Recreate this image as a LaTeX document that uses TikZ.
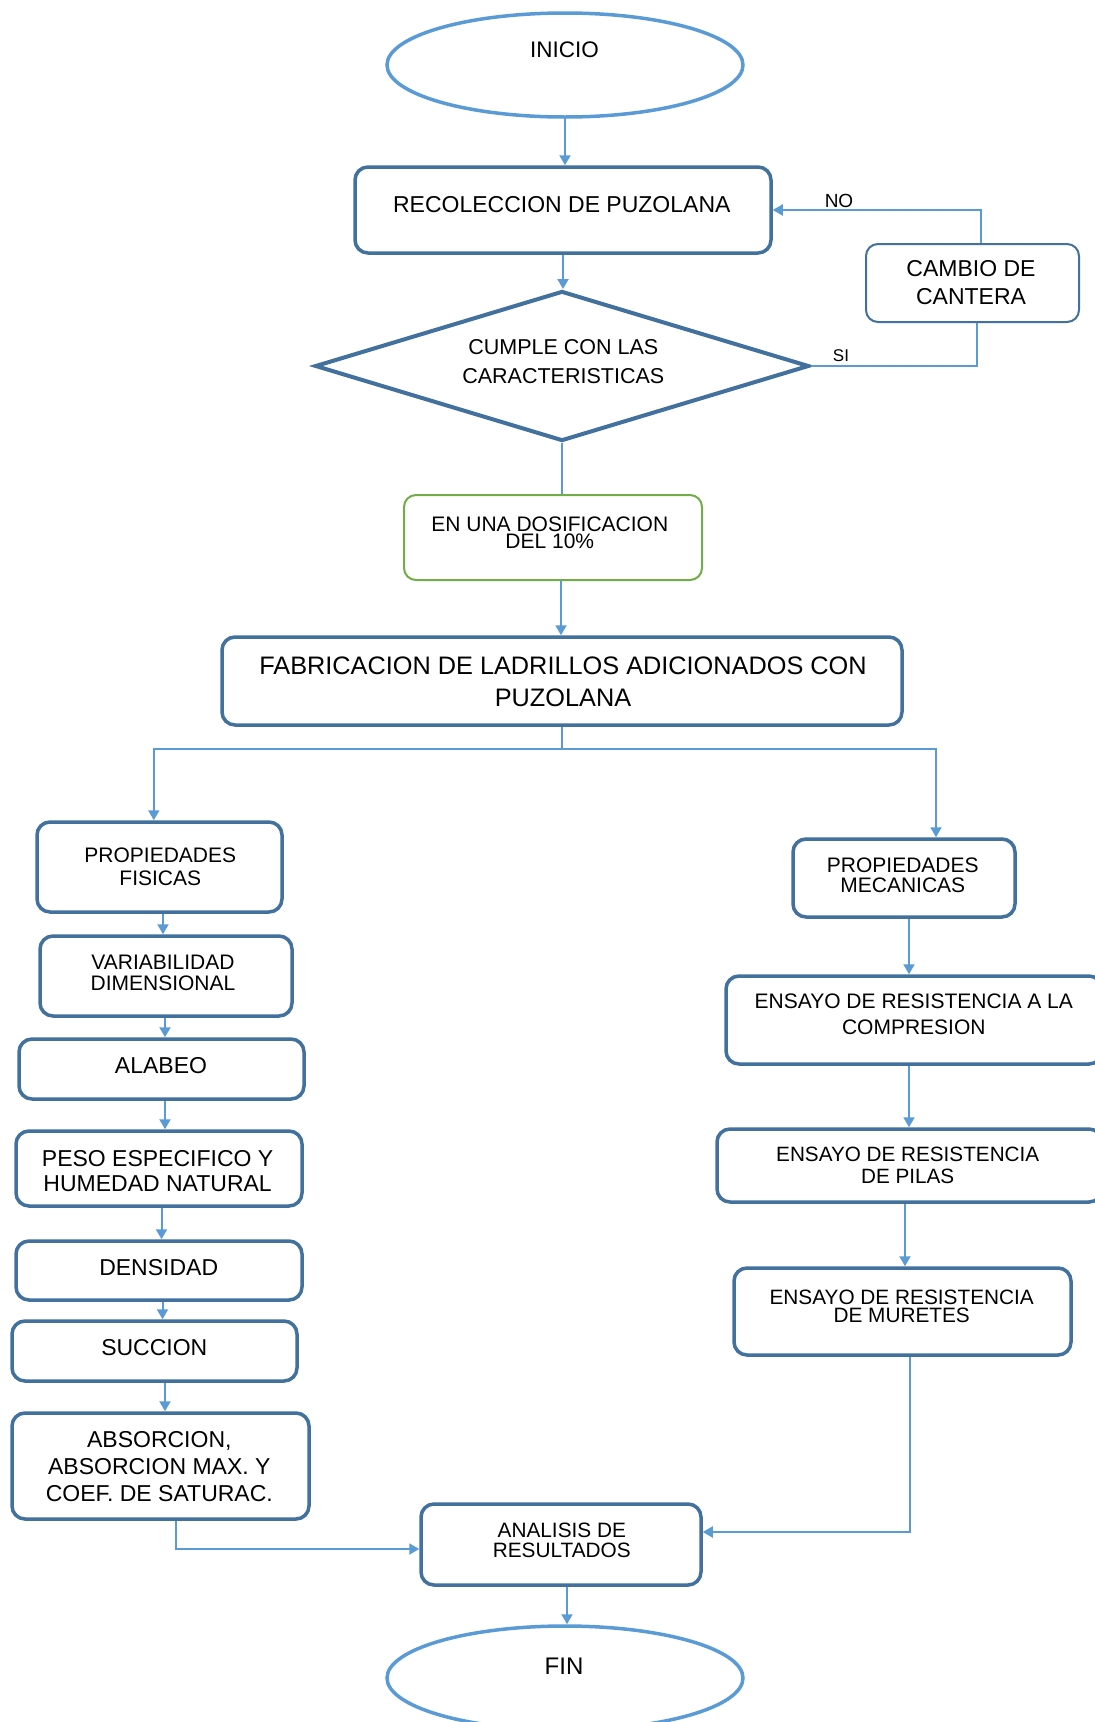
\documentclass[tikz,border=0pt]{standalone}
\usepackage{fontspec}
\setmainfont{Liberation Sans}
\usetikzlibrary{arrows.meta,shapes.geometric}
\definecolor{boxblue}{HTML}{41719C}
\definecolor{linkblue}{HTML}{5B9BD5}
\definecolor{dosegreen}{HTML}{70AD47}
\newcommand{\txtsz}[2]{\fontsize{#1}{#2}\selectfont}
\tikzset{
  box/.style={draw=boxblue, line width=3.5pt, rounded corners=13pt, fill=white, inner sep=0pt},
  thinbox/.style={draw=boxblue, line width=2pt, rounded corners=12pt, fill=white, inner sep=0pt},
  greenbox/.style={draw=dosegreen, line width=2pt, rounded corners=12pt, fill=white, inner sep=0pt},
  term/.style={ellipse, draw=linkblue, line width=3.5pt, fill=white, inner sep=0pt},
  decision/.style={diamond, draw=boxblue, line width=4pt, fill=white, inner sep=0pt},
  lbl/.style={align=center, inner sep=0pt, text=black},
  con/.style={draw=linkblue, line width=2pt},
  arr/.style={con, -{Triangle[length=10pt,width=11pt]}}
}
\begin{document}
\begin{tikzpicture}[x=1pt,y=-1pt]
\useasboundingbox (0,0) rectangle (1095,1722);
\fill[white] (0,0) rectangle (1095,1722);

% --- shapes ---
\node[term, minimum width=356pt, minimum height=104pt] (inicio) at (565,65) {};
\node[box, minimum width=416pt, minimum height=86pt] (rec) at (563,210) {};
\node[thinbox, minimum width=213pt, minimum height=78pt] (cambio) at (972.5,283) {};
\node[decision, minimum width=494pt, minimum height=150pt] (dec) at (562,366) {};
\node[greenbox, minimum width=298pt, minimum height=85pt] (dos) at (553,537.5) {};
\node[box, minimum width=680pt, minimum height=88pt] (fab) at (562,681) {};

\node[box, minimum width=245pt, minimum height=90pt] (pf) at (159.5,867) {};
\node[box, minimum width=252pt, minimum height=80pt] (vd) at (166,976) {};
\node[box, minimum width=285pt, minimum height=60pt] (ala) at (161.5,1069) {};
\node[box, minimum width=286pt, minimum height=75pt] (peso) at (159,1168.5) {};
\node[box, minimum width=286pt, minimum height=59pt] (den) at (159,1270.5) {};
\node[box, minimum width=285pt, minimum height=60pt] (suc) at (154.5,1351) {};
\node[box, minimum width=297pt, minimum height=106pt] (abs) at (160.5,1466) {};

\node[box, minimum width=222pt, minimum height=78pt] (pm) at (904,878) {};
\node[box, minimum width=376pt, minimum height=88pt] (comp) at (914,1020) {};
\node[box, minimum width=385pt, minimum height=73pt] (pil) at (909.5,1165.5) {};
\node[box, minimum width=337pt, minimum height=87pt] (mur) at (902.5,1311.5) {};

\node[box, minimum width=280pt, minimum height=81pt] (ana) at (561,1544.5) {};
\node[term, minimum width=356pt, minimum height=104pt] (fin) at (565,1678) {};

% --- texts ---
\node[lbl, font=\txtsz{22.5}{27}] (t-inicio) at (564.5,49.4) {INICIO};
\node[lbl, font=\txtsz{23}{27}] (t-rec) at (561.8,204.3) {RECOLECCION DE PUZOLANA};
\node[lbl, font=\txtsz{23}{27.5}] (t-cambio) at (971,282.8) {CAMBIO DE\\CANTERA};
\node[lbl, font=\txtsz{21.5}{28.6}] (t-dec) at (563.3,361.3) {CUMPLE CON LAS\\CARACTERISTICAS};
\node[lbl, font=\txtsz{21}{17.6}] (t-dos) at (549.8,532.7) {EN UNA DOSIFICACION\\DEL 10\%};
\node[lbl, font=\txtsz{25.3}{31.9}] (t-fab) at (563,681.5) {FABRICACION DE LADRILLOS ADICIONADOS CON\\PUZOLANA};

\node[lbl, font=\txtsz{21}{23}] (t-pf) at (160.3,867.1) {PROPIEDADES\\FISICAS};
\node[lbl, font=\txtsz{21}{21}] (t-vd) at (163,972.5) {VARIABILIDAD\\DIMENSIONAL};
\node[lbl, font=\txtsz{23}{27}] (t-ala) at (161,1065.4) {ALABEO};
\node[lbl, font=\txtsz{23}{25.3}] (t-peso) at (157.6,1171.4) {PESO ESPECIFICO Y\\HUMEDAD NATURAL};
\node[lbl, font=\txtsz{23}{27}] (t-den) at (158.7,1267.4) {DENSIDAD};
\node[lbl, font=\txtsz{23}{27}] (t-suc) at (154.3,1347.6) {SUCCION};
\node[lbl, font=\txtsz{23}{26.9}] (t-abs) at (159.3,1466.8) {ABSORCION,\\ABSORCION MAX. Y\\COEF. DE SATURAC.};

\node[lbl, font=\txtsz{21}{19.8}] (t-pm) at (902.8,875.3) {PROPIEDADES\\MECANICAS};
\node[lbl, font=\txtsz{21}{25.3}] (t-comp) at (913.8,1014.3) {ENSAYO DE RESISTENCIA A LA\\COMPRESION};
\node[lbl, font=\txtsz{20.7}{22}] (t-pil) at (907.7,1165.3) {ENSAYO DE RESISTENCIA\\DE PILAS};
\node[lbl, font=\txtsz{20.8}{18.7}] (t-mur) at (901.7,1306.4) {ENSAYO DE RESISTENCIA\\DE MURETES};
\node[lbl, font=\txtsz{20.8}{20.8}] (t-ana) at (561.8,1540.4) {ANALISIS DE\\RESULTADOS};
\node[lbl, font=\txtsz{24}{28}] (t-fin) at (564,1666.1) {FIN};

\node[lbl, font=\txtsz{19}{22}] (t-no) at (839,201) {NO};
\node[lbl, font=\txtsz{17}{20}] (t-si) at (841,356) {SI};

% --- connectors ---
\draw[arr] (inicio.south) -- (inicio.south |- rec.north);
\draw[arr] (rec.south) -- (rec.south |- dec.north);
\draw[arr] ([xshift=8.5pt]cambio.north) |- (rec.east);
\draw[con] (dec.east) -| ([xshift=4.5pt]cambio.south);
\draw[con] (dec.south) -- (dec.south |- dos.north);
\draw[arr] ([xshift=8pt]dos.south) -- ([xshift=8pt]dos.south |- fab.north);

\coordinate (split) at (562,749);
\draw[con] (fab.south) -- (split);
\draw[arr] (split) -| ([xshift=-5.7pt]pf.north);
\draw[arr] (split) -| ([xshift=32pt]pm.north);

\draw[arr] (pf.south -| 163,0) -- (vd.north -| 163,0);
\draw[arr] (vd.south -| 165,0) -- (ala.north -| 165,0);
\draw[arr] (ala.south -| 165,0) -- (peso.north -| 165,0);
\draw[arr] (peso.south -| 161.5,0) -- (den.north -| 161.5,0);
\draw[arr] (den.south -| 162.5,0) -- (suc.north -| 162.5,0);
\draw[arr] (suc.south -| 165,0) -- (abs.north -| 165,0);

\draw[arr] (pm.south -| 909,0) -- (comp.north -| 909,0);
\draw[arr] (comp.south -| 909,0) -- (pil.north -| 909,0);
\draw[arr] (pil.south -| 905,0) -- (mur.north -| 905,0);

\draw[arr] ([xshift=7.5pt]mur.south) |- ([yshift=12.5pt]ana.east);
\draw[arr] ([xshift=15.5pt]abs.south) |- ([yshift=-4.5pt]ana.west);
\draw[arr] ([xshift=6pt]ana.south) -- ([xshift=6pt]ana.south |- fin.north);
\end{tikzpicture}
\end{document}
